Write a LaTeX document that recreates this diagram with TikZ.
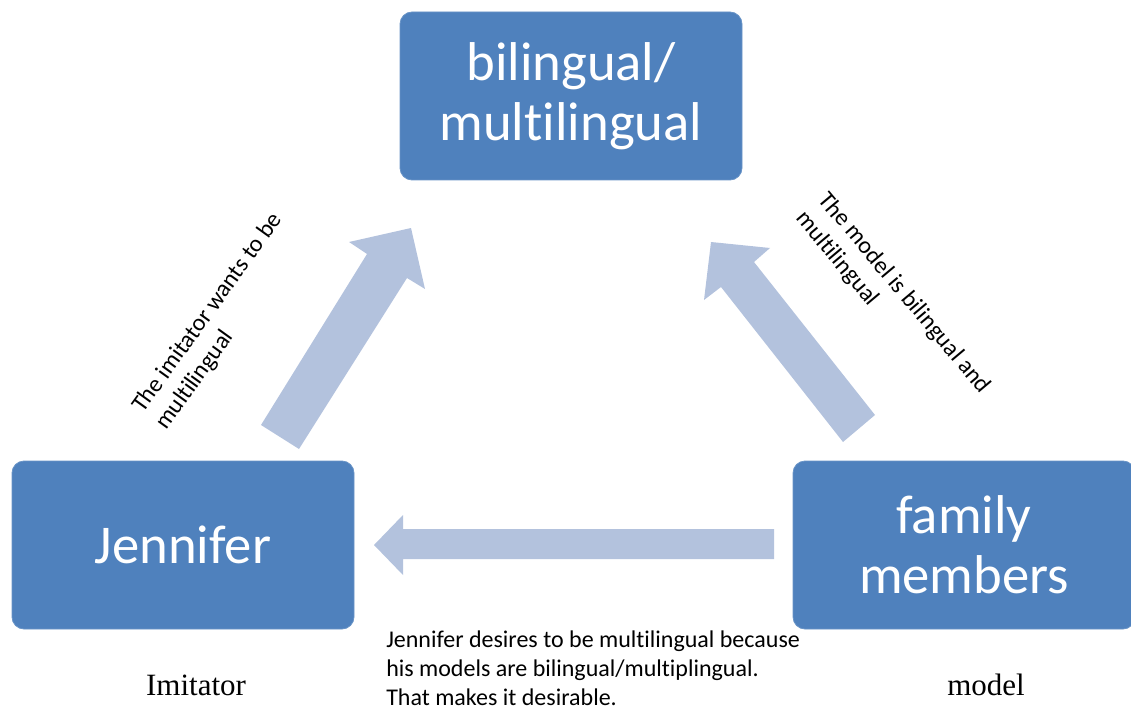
\documentclass[tikz,border=0pt]{standalone}
\usepackage{fontspec}
\setmainfont{Carlito}[Ligatures=NoCommon]
\newfontfamily\serifface{Liberation Serif}
\definecolor{boxblue}{RGB}{79,129,189}
\definecolor{arrowblue}{RGB}{179,194,221}
\begin{document}
\begin{tikzpicture}[x=0.75pt,y=-0.75pt,
  rolebox/.style={fill=boxblue, draw=boxblue!85!white, line width=0.6pt,
    rounded corners=9pt, minimum width=256.5pt, minimum height=126pt,
    inner sep=0pt, text=white, align=center,
    font=\fontsize{41pt}{45pt}\selectfont},
  blockarrow/.style={fill=arrowblue},
  note/.style={inner sep=0pt, align=left, font=\fontsize{18pt}{21.75pt}\selectfont},
  rolelabel/.style={inner sep=0pt, anchor=base, font=\serifface\fontsize{23.25pt}{26pt}\selectfont}]
\path[use as bounding box, clip] (0,0) rectangle (1131,706);

% the three roles
\node[rolebox] (goal) at (571,96) {bilingual/\\multilingual};
\node[rolebox] (imitator) at (183,545) {Jennifer};
\node[rolebox] (model) at (964,545) {family\\members};

% block arrow: imitator -> goal
\coordinate (a1bl) at (261,425);
\coordinate (a1br) at (299,449);
\coordinate (a1jr) at (407,278);
\coordinate (a1wr) at (425,289);
\coordinate (a1tip) at (411,228);
\coordinate (a1wl) at (349,242);
\coordinate (a1jl) at (367,254);
\fill[blockarrow] (a1bl) -- (a1br) -- (a1jr) -- (a1wr) -- (a1tip) -- (a1wl) -- (a1jl) -- cycle;

% block arrow: model -> goal
\coordinate (a2br) at (875,415);
\coordinate (a2bl) at (843,442);
\coordinate (a2jl) at (721,287);
\coordinate (a2wl) at (704,300);
\coordinate (a2tip) at (711,242);
\coordinate (a2wr) at (770,248);
\coordinate (a2jr) at (754,262);
\fill[blockarrow] (a2br) -- (a2bl) -- (a2jl) -- (a2wl) -- (a2tip) -- (a2wr) -- (a2jr) -- cycle;

% block arrow: model -> imitator
\coordinate (a3tr) at (774,529);
\coordinate (a3br) at (774,559);
\coordinate (a3bj) at (403,559);
\coordinate (a3bw) at (403,575);
\coordinate (a3tip) at (374,545);
\coordinate (a3tw) at (403,515);
\coordinate (a3tj) at (403,529);
\fill[blockarrow] (a3tr) -- (a3br) -- (a3bj) -- (a3bw) -- (a3tip) -- (a3tw) -- (a3tj) -- cycle;

% arrow captions (anchored on the baseline of their last line)
\node[note, rotate=54.3, anchor=base west] (lblimit) at (166.5,431)
  {The imitator wants to be\\multilingual};
\node[note, rotate=-50, anchor=base west] (lblmodel) at (795,218.5)
  {The model is bilingual and\\multilingual};
\node[note, anchor=base west] (lblwhy) at (386,705)
  {Jennifer desires to be multilingual because\\his models are bilingual/multiplingual.\\That makes it desirable.};

% role names
\node[rolelabel] (nameimit) at (196,695) {Imitator};
\node[rolelabel] (namemodel) at (986,695) {model};
\end{tikzpicture}
\end{document}
